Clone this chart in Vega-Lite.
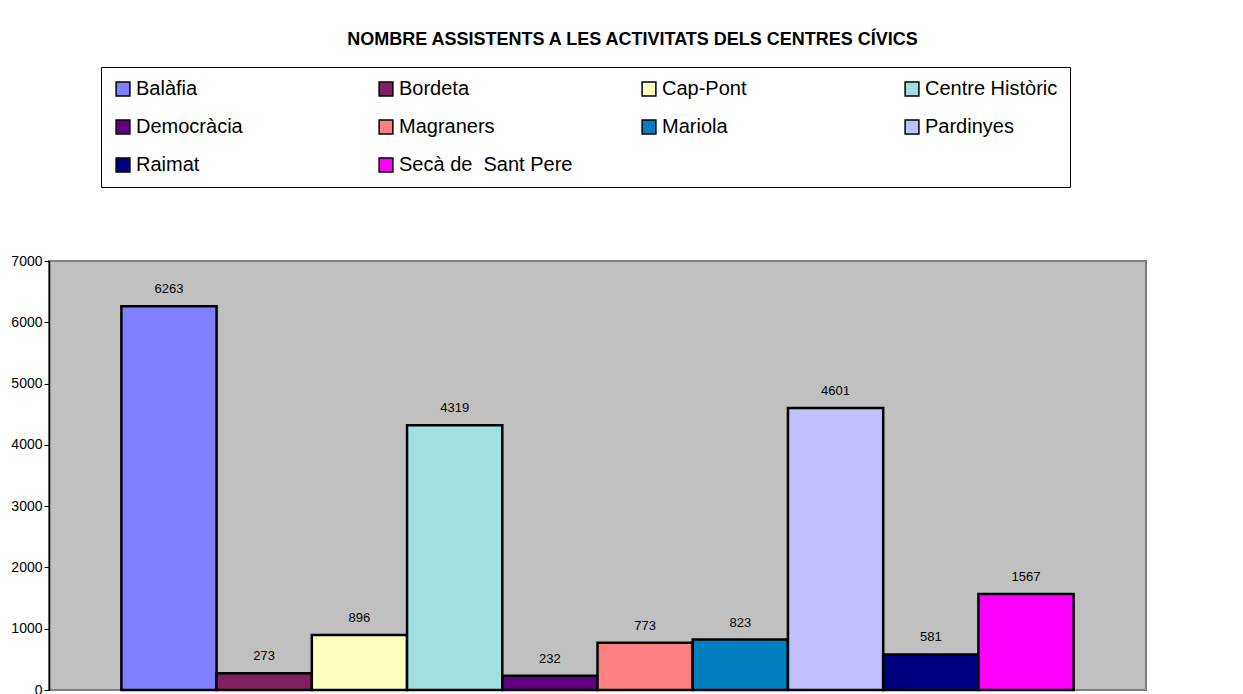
{
  "$schema": "https://vega.github.io/schema/vega-lite/v6.json",
  "autosize": "none",
  "width": 1097,
  "height": 429,
  "padding": {"left": 49, "top": 261, "right": 97, "bottom": 4},
  "background": "white",
  "title": {
    "text": "NOMBRE ASSISTENTS A LES ACTIVITATS DELS CENTRES CÍVICS",
    "font": "Liberation Sans",
    "fontSize": 18,
    "fontWeight": "bold",
    "color": "black",
    "anchor": "middle",
    "frame": "group",
    "offset": 18,
    "dx": 35
  },
  "data": {
    "values": [
      {"centre": "Balàfia", "assistents": 6263},
      {"centre": "Bordeta", "assistents": 273},
      {"centre": "Cap-Pont", "assistents": 896},
      {"centre": "Centre Històric", "assistents": 4319},
      {"centre": "Democràcia", "assistents": 232},
      {"centre": "Magraners", "assistents": 773},
      {"centre": "Mariola", "assistents": 823},
      {"centre": "Pardinyes", "assistents": 4601},
      {"centre": "Raimat", "assistents": 581},
      {"centre": "Secà de  Sant Pere", "assistents": 1567}
    ]
  },
  "encoding": {
    "x": {
      "field": "centre",
      "type": "nominal",
      "sort": null,
      "scale": {"paddingInner": 0, "paddingOuter": 0.76},
      "axis": null
    },
    "y": {
      "field": "assistents",
      "type": "quantitative",
      "scale": {"domain": [0, 7000], "nice": false},
      "axis": {
        "title": null,
        "values": [0, 1000, 2000, 3000, 4000, 5000, 6000, 7000],
        "format": "d",
        "grid": false,
        "domain": true,
        "domainColor": "black",
        "domainWidth": 1.5,
        "tickColor": "black",
        "tickSize": 5,
        "labelFont": "Liberation Sans",
        "labelFontSize": 14,
        "labelColor": "black",
        "labelPadding": 2
      }
    }
  },
  "layer": [
    {
      "mark": {"type": "bar", "stroke": "black", "strokeWidth": 2.5},
      "encoding": {
        "fill": {
          "field": "centre",
          "type": "nominal",
          "sort": null,
          "scale": {
            "domain": ["Balàfia", "Bordeta", "Cap-Pont", "Centre Històric", "Democràcia", "Magraners", "Mariola", "Pardinyes", "Raimat", "Secà de  Sant Pere"],
            "range": ["#8080FF", "#802060", "#FFFFC0", "#A0E0E0", "#600080", "#FF8080", "#0080C0", "#C0C0FF", "#000080", "#FF00FF"]
          },
          "legend": {
            "title": null,
            "orient": "none",
            "direction": "horizontal",
            "legendX": 52,
            "legendY": -194,
            "columns": 4,
            "gridAlign": "all",
            "columnPadding": 66,
            "rowPadding": 18,
            "symbolType": "square",
            "symbolSize": 190,
            "symbolStrokeColor": "black",
            "symbolStrokeWidth": 1.5,
            "labelFont": "Liberation Sans",
            "labelFontSize": 20,
            "labelColor": "black",
            "labelOffset": 3,
            "labelLimit": 400,
            "labelExpr": "replace(datum.label, '  ', '\u00a0 ')",
            "strokeColor": "black",
            "fillColor": "white",
            "padding": 12
          }
        }
      }
    },
    {
      "mark": {"type": "text", "baseline": "bottom", "dy": -10, "font": "Liberation Sans", "fontSize": 13, "color": "black"},
      "encoding": {
        "text": {"field": "assistents", "type": "quantitative", "format": "d"}
      }
    }
  ],
  "config": {
    "view": {"fill": "#C0C0C0", "stroke": "#808080", "strokeWidth": 2}
  }
}
